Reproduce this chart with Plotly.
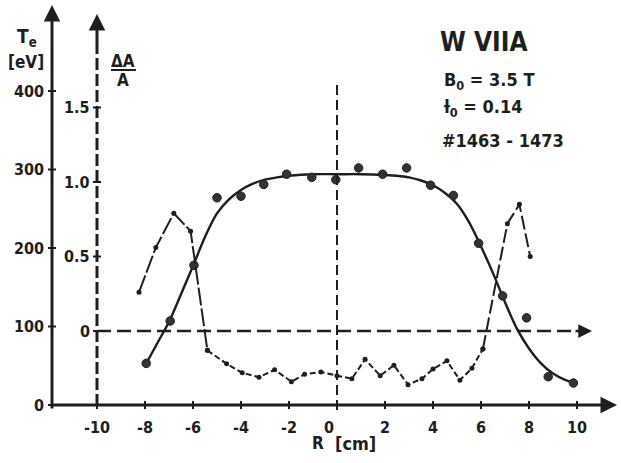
import plotly.graph_objects as go

# ---------------- data ----------------
te_r = [-7.95, -6.95, -5.96, -5.0, -4.0, -3.05, -2.1, -1.05, -0.05, 0.9, 1.9,
        2.9, 3.9, 4.85, 5.9, 6.9, 7.9, 8.8, 9.85]
te_val = [53, 107, 178, 264, 266, 281, 294, 290, 287, 302, 294,
          302, 280, 267, 206, 139, 111, 36, 28]

fit_r = [-8, -7.5, -7, -6.5, -6, -5.5, -5, -4.5, -4, -3.5, -3, -2.5, -2, -1, 0, 1, 2,
         2.5, 3, 3.5, 4, 4.5, 5, 5.5, 6, 6.5, 7, 7.5, 8, 8.5, 9, 9.5, 9.85]
fit_te = [50, 78, 106, 141, 177, 214, 244, 262, 274, 282, 287, 290, 292, 294, 294, 294, 293,
          292, 290, 286, 280, 270, 256, 233, 202, 168, 131, 97, 72, 53, 40, 32, 29]

da_r = [-8.25, -7.55, -6.8, -6.1, -5.4, -4.6, -3.95, -3.25, -2.6, -1.9, -1.35,
        -0.67, 0.0, 0.62, 1.17, 1.8, 2.37, 2.96, 3.54, 4.0, 4.58, 5.12, 5.62,
        6.08, 7.1, 7.6, 8.05]
da_val = [0.26, 0.56, 0.79, 0.67, -0.13, -0.22, -0.28, -0.31, -0.26, -0.34, -0.29,
          -0.275, -0.30, -0.32, -0.19, -0.30, -0.23, -0.36, -0.32, -0.255, -0.20, -0.33, -0.25,
          -0.12, 0.72, 0.85, 0.50]

te_ticks = [0, 100, 200, 300, 400]
te_tick_labels = ["0", "100", "200", "300", "400"]
da_ticks = [0, 0.5, 1.0, 1.5]
da_tick_labels = ["0", "0.5", "1.0", "1.5"]
r_ticks = [-10, -8, -6, -4, -2, 0, 2, 4, 6, 8, 10]
r_tick_labels = ["-10", "-8", "-6", "-4", "-2", "0", "2", "4", "6", "8", "10"]

# ---------------- geometry ----------------
W, H = 621, 463
X0PX, XS = 337.0, 24.0        # pixel of R=0, px per cm
TE0PX, TES = 405.0, 0.785     # pixel of Te=0, px per eV
DA0PX, DAS = 331.0, 149.0     # pixel of dA/A=0, px per unit


def px2r(px):
    return (px - X0PX) / XS


def py2te(py):
    return (TE0PX - py) / TES


def py2da(py):
    return (DA0PX - py) / DAS


def pxp(px):
    return px / W


def pyp(py):
    return 1 - py / H


INK = "#1e1e1e"
FONT = "DejaVu Sans Condensed, Liberation Sans Narrow, DejaVu Sans, sans-serif"
TE_AXIS_R = px2r(52)
DA_AXIS_R = -10

fig = go.Figure()

# Te fitted curve
fig.add_trace(go.Scatter(x=fit_r, y=fit_te, mode="lines",
                         line=dict(color=INK, width=2.4, shape="spline", smoothing=1.0),
                         hoverinfo="skip", showlegend=False))
# Te points
fig.add_trace(go.Scatter(x=te_r, y=te_val, mode="markers",
                         marker=dict(color="#333333", size=8.5, line=dict(color=INK, width=1)),
                         showlegend=False))
# dA/A segments
L, M = 4, 23
fig.add_trace(go.Scatter(x=da_r[:L + 1], y=da_val[:L + 1], mode="lines+markers", yaxis="y2",
                         line=dict(color=INK, width=2, dash="18px,3px"),
                         marker=dict(color=INK, size=5), showlegend=False))
fig.add_trace(go.Scatter(x=da_r[L:M + 1], y=da_val[L:M + 1], mode="lines+markers", yaxis="y2",
                         line=dict(color=INK, width=2, dash="6px,3px"),
                         marker=dict(color=INK, size=5), showlegend=False))
fig.add_trace(go.Scatter(x=da_r[M:], y=da_val[M:], mode="lines+markers", yaxis="y2",
                         line=dict(color=INK, width=2, dash="14px,4px"),
                         marker=dict(color=INK, size=5), showlegend=False))

shapes = []
annotations = []

# dA/A axis (dashed vertical at R=-10)
shapes.append(dict(type="line", xref="x", yref="y", x0=DA_AXIS_R, x1=DA_AXIS_R,
                   y0=py2te(406), y1=py2te(40), line=dict(color=INK, width=3, dash="12px,4px")))
annotations.append(dict(x=DA_AXIS_R, y=py2te(14), ax=DA_AXIS_R, ay=py2te(44),
                        xref="x", yref="y", axref="x", ayref="y", text="", showarrow=True,
                        arrowhead=2, arrowsize=1.1, arrowwidth=3, arrowcolor=INK))
# Te axis (solid)
annotations.append(dict(x=TE_AXIS_R, y=py2te(5), ax=TE_AXIS_R, ay=py2te(410),
                        xref="x", yref="y", axref="x", ayref="y", text="", showarrow=True,
                        arrowhead=2, arrowsize=1.1, arrowwidth=3, arrowcolor=INK))
# R axis (solid)
annotations.append(dict(x=px2r(617), y=0, ax=TE_AXIS_R, ay=0,
                        xref="x", yref="y", axref="x", ayref="y", text="", showarrow=True,
                        arrowhead=2, arrowsize=1.1, arrowwidth=3, arrowcolor=INK))
# dA/A = 0 dashed line
shapes.append(dict(type="line", xref="x", yref="y2", x0=DA_AXIS_R, x1=px2r(572),
                   y0=0, y1=0, line=dict(color=INK, width=2.5, dash="14px,6px")))
annotations.append(dict(x=px2r(592), y=0, ax=px2r(574), ay=0,
                        xref="x", yref="y2", axref="x", ayref="y2", text="", showarrow=True,
                        arrowhead=2, arrowsize=1.1, arrowwidth=2.5, arrowcolor=INK))
# vertical dashed line at R=0
shapes.append(dict(type="line", xref="x", yref="y", x0=0, x1=0,
                   y0=py2te(410), y1=py2te(81), line=dict(color=INK, width=2, dash="10px,5px")))

# ticks on Te axis
for t, lab in zip(te_ticks, te_tick_labels):
    shapes.append(dict(type="line", xref="x", yref="y", x0=TE_AXIS_R - 4 / XS, x1=TE_AXIS_R + 4 / XS,
                       y0=t, y1=t, line=dict(color=INK, width=2)))
    annotations.append(dict(x=TE_AXIS_R - 6 / XS, y=t, xref="x", yref="y", text=lab,
                            showarrow=False, xanchor="right", yanchor="middle",
                            font=dict(family=FONT, size=16, color=INK, weight="bold")))
# ticks on dA/A axis
for t, lab in zip(da_ticks, da_tick_labels):
    shapes.append(dict(type="line", xref="x", yref="y2", x0=DA_AXIS_R - 4 / XS, x1=DA_AXIS_R + 4 / XS,
                       y0=t, y1=t, line=dict(color=INK, width=2)))
    annotations.append(dict(x=DA_AXIS_R - 5 / XS, y=t, xref="x", yref="y2", text=lab,
                            showarrow=False, xanchor="right", yanchor="middle",
                            font=dict(family=FONT, size=16, color=INK, weight="bold")))
# ticks on R axis
for t, lab in zip(r_ticks, r_tick_labels):
    shapes.append(dict(type="line", xref="x", yref="y", x0=t, x1=t,
                       y0=py2te(401), y1=py2te(409), line=dict(color=INK, width=2)))
    annotations.append(dict(x=t, y=py2te(427), xref="x", yref="y", text=lab,
                            showarrow=False, xanchor="center", yanchor="middle",
                            xshift=-8 if t == 0 else 0,
                            font=dict(family=FONT, size=16, color=INK, weight="bold")))

# fraction bar for dA/A
shapes.append(dict(type="line", xref="paper", yref="paper", x0=pxp(111), x1=pxp(136),
                   y0=pyp(70), y1=pyp(70), line=dict(color=INK, width=2)))


def label(px, py, text, size, anchor="center"):
    annotations.append(dict(x=pxp(px), y=pyp(py), xref="paper", yref="paper", text=text,
                            showarrow=False, xanchor=anchor, yanchor="middle",
                            font=dict(family=FONT, size=size, color=INK, weight="bold")))


label(27, 37, "T<sub>e</sub>", 19)
label(26, 62, "[eV]", 17)
label(123, 61, "ΔA", 17)
label(123, 80, "A", 17)
label(484, 42, "W VIIA", 26)
label(442, 81, "B<sub>0</sub> = 3.5 T", 18, "left")
label(442, 108, "ƚ<sub>0</sub> = 0.14", 18, "left")
label(440, 140, "#1463 - 1473", 18, "left")
label(318, 443, "R", 17)
label(355, 443, "[cm]", 18)

fig.update_layout(
    width=W, height=H, autosize=False,
    margin=dict(l=0, r=0, t=0, b=0, pad=0),
    paper_bgcolor="white", plot_bgcolor="white",
    xaxis=dict(range=[px2r(0), px2r(W)], visible=False, fixedrange=True),
    yaxis=dict(range=[py2te(H), py2te(0)], visible=False, fixedrange=True),
    yaxis2=dict(range=[py2da(H), py2da(0)], visible=False, overlaying="y", fixedrange=True),
    shapes=shapes, annotations=annotations, showlegend=False,
)

fig.write_html("out.html", config={"displayModeBar": False},
               post_script="document.body.style.margin='0';")
